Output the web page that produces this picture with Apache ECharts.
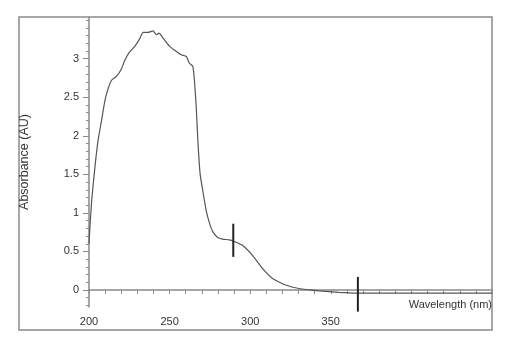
<!DOCTYPE html>
<html><head><meta charset="utf-8">
<script src="https://cdn.jsdelivr.net/npm/echarts@6/dist/echarts.min.js"></script>
<style>html,body{margin:0;padding:0;background:#fff}#c{width:508px;height:338px}</style>
</head><body><div id="c"></div>
<script>
const wavelength = [200,200.6,201.7,203.7,205.7,207.8,209.9,212,214,217,220.2,222.2,225.3,228.4,231.5,233.5,236.6,239.7,241.8,243.5,245.2,246.9,250,253.1,257.2,260.3,262.3,264.4,265.4,266.5,267.5,268.9,270.5,272.6,274.7,276.7,279.8,282.9,287,290,295.2,301.4,307.6,313.8,322,330.2,342.6,355,366.2,380,400,420,450];
const absorbance = [0.6,0.82,1.17,1.6,1.95,2.2,2.46,2.62,2.72,2.77,2.87,2.98,3.09,3.16,3.26,3.34,3.34,3.36,3.31,3.33,3.29,3.24,3.16,3.11,3.05,3.03,2.94,2.9,2.72,2.38,1.95,1.51,1.3,1.04,0.87,0.76,0.68,0.66,0.65,0.63,0.58,0.45,0.28,0.15,0.065,0.02,-0.01,-0.03,-0.04,-0.04,-0.04,-0.04,-0.04];
const markerX = [289.5, 366.8];
const markerTop = [0.86, 0.17];
const markerBottom = [0.43, -0.28];
const xTickLabels = [200,250,300,350];
const yTickLabels = [0,0.5,1,1.5,2,2.5,3];
const yMinorTicks = [-0.2,-0.1,0,0.1,0.2,0.3,0.4,0.5,0.6,0.7,0.8,0.9,1,1.1,1.2,1.3,1.4,1.5,1.6,1.7,1.8,1.9,2,2.1,2.2,2.3,2.4,2.5,2.6,2.7,2.8,2.9,3,3.1,3.2,3.3,3.4,3.5];

const axisCol = '#8a8a8a';
const txtCol = '#333';
const font = 'Liberation Sans, Arial, sans-serif';
const chart = echarts.init(document.getElementById('c'), null, {renderer:'canvas'});
const yBase = {type:'value', min:-0.22, max:3.54, splitLine:{show:false}};
const markerSeries = markerX.map((m,i)=>({
  type:'line', data:[[m,markerTop[i]],[m,markerBottom[i]]], showSymbol:false, clip:false, z:3,
  lineStyle:{color:'#222', width:2}
}));
chart.setOption({
  animation:false,
  grid:{left:89, top:17, right:16, bottom:31},
  graphic:[{type:'rect', shape:{x:19,y:17,width:473,height:313}, style:{fill:'none', stroke:axisCol, lineWidth:1.5}, z:-1}],
  xAxis:{type:'value', min:200, max:450, interval:10,
    name:'Wavelength (nm)', nameLocation:'end', nameGap:0,
    nameTextStyle:{align:'right', verticalAlign:'top', padding:[9,0,0,0], color:txtCol, fontSize:11, fontFamily:font},
    axisLine:{lineStyle:{color:axisCol, width:1.5}},
    axisTick:{length:4, lineStyle:{color:axisCol}},
    axisLabel:{customValues:xTickLabels, margin:9, color:txtCol, fontSize:11, fontFamily:font},
    splitLine:{show:false}},
  yAxis:[
    Object.assign({}, yBase, {
      name:'Absorbance (AU)', nameLocation:'middle', nameGap:58,
      nameTextStyle:{color:txtCol, fontSize:12.5, fontFamily:font},
      axisLine:{show:true, lineStyle:{color:axisCol, width:1.5}},
      axisTick:{show:true, customValues:yTickLabels, length:6, lineStyle:{color:axisCol}},
      axisLabel:{customValues:yTickLabels, margin:10, color:txtCol, fontSize:11, fontFamily:font}}),
    Object.assign({}, yBase, {position:'left',
      axisLine:{show:false},
      axisTick:{show:true, customValues:yMinorTicks, length:3, lineStyle:{color:axisCol}},
      axisLabel:{show:false}})
  ],
  series:[{
    type:'line', data:wavelength.map((w,i)=>[w,absorbance[i]]), showSymbol:false, smooth:0.15, clip:false,
    lineStyle:{color:'#555', width:1.2}
  }].concat(markerSeries)
});
</script></body></html>
